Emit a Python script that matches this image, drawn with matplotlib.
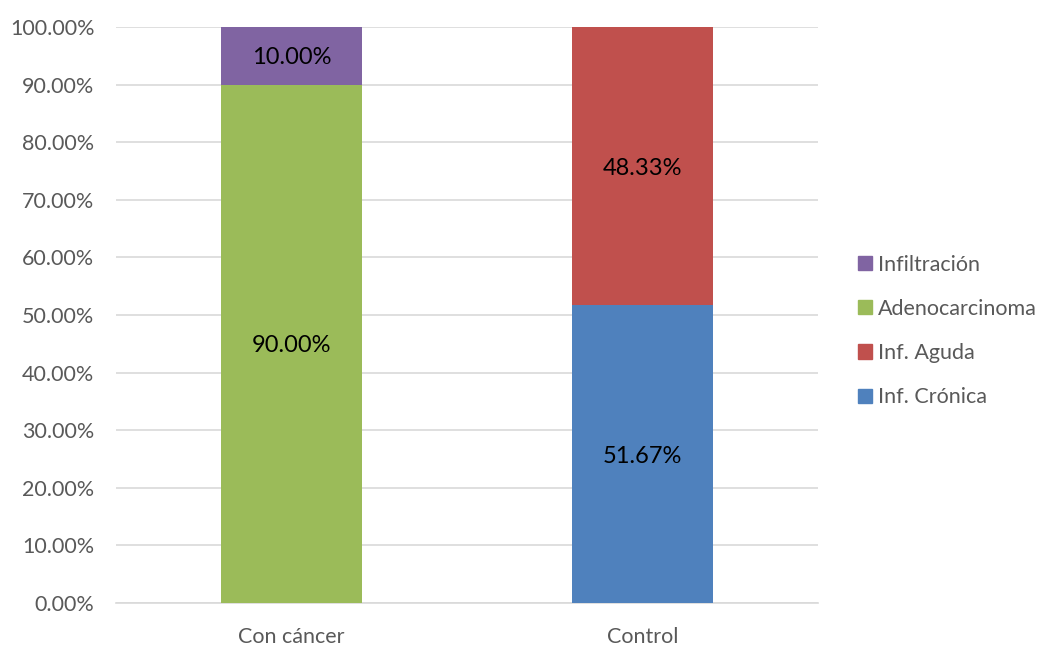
import matplotlib.pyplot as plt
from matplotlib.ticker import FuncFormatter, MultipleLocator
from matplotlib.patches import Patch

categories = ["Con cáncer", "Control"]
series_names = ["Inf. Crónica", "Inf. Aguda", "Adenocarcinoma", "Infiltración"]
series_values = {
    "Inf. Crónica": [0.0, 51.67],
    "Inf. Aguda": [0.0, 48.33],
    "Adenocarcinoma": [90.00, 0.0],
    "Infiltración": [10.00, 0.0],
}
colors = {
    "Inf. Crónica": "#4F81BD",
    "Inf. Aguda": "#C0504D",
    "Adenocarcinoma": "#9BBB59",
    "Infiltración": "#8064A2",
}

plt.rcParams['font.family'] = ['Lato', 'DejaVu Sans']

fig = plt.figure(figsize=(10.45, 6.46), dpi=100)
ax = fig.add_axes([116 / 1045, 1 - 603 / 646, (818 - 116) / 1045, (603 - 27) / 646])

x = list(range(len(categories)))
bottom = [0.0] * len(categories)
for name in series_names:
    vals = series_values[name]
    ax.bar(x, vals, width=0.4, bottom=bottom, color=colors[name], zorder=3)
    for i, v in enumerate(vals):
        if v > 0:
            ax.text(i, bottom[i] + v / 2, f"{v:.2f}%", ha="center", va="center_baseline",
                    fontsize=17, color="black", zorder=4)
    bottom = [b + v for b, v in zip(bottom, vals)]

ax.set_xlim(-0.5, 1.5)
ax.set_ylim(0, 100)
ax.yaxis.set_major_locator(MultipleLocator(10))
ax.yaxis.set_major_formatter(FuncFormatter(lambda v, _: f"{v:.2f}%"))
ax.set_xticks(x)
ax.set_xticklabels(categories)
ax.tick_params(axis="both", length=0, labelsize=15.5, colors="#595959")
ax.tick_params(axis="x", pad=17)
ax.tick_params(axis="y", pad=15.5)
ax.grid(axis="y", color="#D9D9D9", linewidth=1.2, zorder=0)
for side in ["top", "right", "left"]:
    ax.spines[side].set_visible(False)
ax.spines["bottom"].set_color("#D9D9D9")
ax.spines["bottom"].set_linewidth(1.2)

handles = [Patch(color=colors[n], label=n) for n in reversed(series_names)]
leg = fig.legend(handles=handles, loc="center left", bbox_to_anchor=(849 / 1045, 1 - 331 / 646),
                 frameon=False, fontsize=15.5, handlelength=0.65, handleheight=0.65,
                 handletextpad=0.3, labelspacing=1.13, labelcolor="#595959",
                 borderaxespad=0, borderpad=0.4)

fig.savefig("out.png", dpi=100)
